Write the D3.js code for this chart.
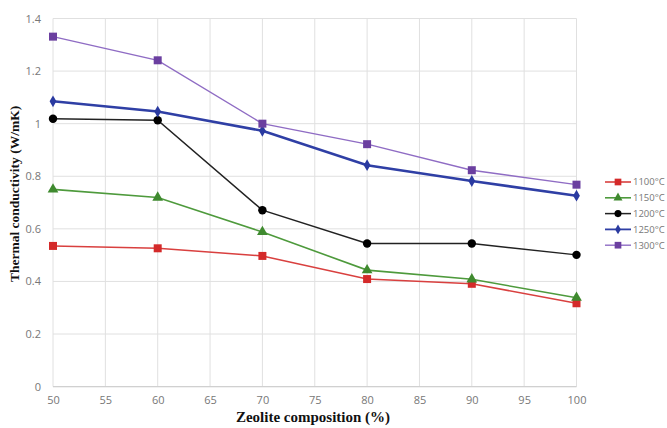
<!DOCTYPE html>
<html><head><meta charset="utf-8">
<script src="https://cdn.jsdelivr.net/npm/d3@7"></script>
<style>body{margin:0;background:#fff}svg{display:block}</style>
</head><body>
<svg id="c" width="667" height="428"></svg>
<script>
const composition = [50, 60, 70, 80, 90, 100];
const s1100 = [0.535, 0.526, 0.497, 0.409, 0.391, 0.317];
const s1150 = [0.750, 0.719, 0.588, 0.443, 0.408, 0.338];
const s1200 = [1.019, 1.013, 0.671, 0.544, 0.544, 0.501];
const s1250 = [1.085, 1.046, 0.973, 0.842, 0.782, 0.726];
const s1300 = [1.331, 1.241, 1.000, 0.922, 0.823, 0.768];
const seriesNames = ["1100°C", "1150°C", "1200°C", "1250°C", "1300°C"];
const xTicks = [50, 55, 60, 65, 70, 75, 80, 85, 90, 95, 100];
const yTicks = [0, 0.2, 0.4, 0.6, 0.8, 1, 1.2, 1.4];

const styles = [
  {line: "#d9403f", fill: "#d42a2a", w: 1.6, sym: d3.symbolSquare, size: 64},
  {line: "#4e9a3c", fill: "#3f8a2f", w: 1.6, sym: d3.symbolTriangle, size: 50},
  {line: "#222", fill: "#000", w: 1.5, sym: d3.symbolCircle, size: 56},
  {line: "#2f3fa5", fill: "#2a3aa0", w: 2.6, sym: d3.symbolDiamond, size: 40},
  {line: "#8f6cc4", fill: "#6b3fa0", w: 1.4, sym: d3.symbolSquare, size: 64}
];
const data = [s1100, s1150, s1200, s1250, s1300];

const svg = d3.select("#c");
const x = d3.scaleLinear().domain([50, 100]).range([53, 576.5]);
const y = d3.scaleLinear().domain([0, 1.4]).range([386.6, 18.5]);

// gridlines
svg.append("g").selectAll("line").data(yTicks).join("line")
  .attr("x1", x(50)).attr("x2", x(100)).attr("y1", d => y(d)).attr("y2", d => y(d))
  .attr("stroke", "#e0e0e0").attr("stroke-width", 1);
svg.append("g").selectAll("line").data(xTicks).join("line")
  .attr("x1", d => x(d)).attr("x2", d => x(d)).attr("y1", y(0)).attr("y2", y(1.4))
  .attr("stroke", "#e0e0e0").attr("stroke-width", 1);
svg.append("line").attr("x1", x(50)).attr("x2", x(100)).attr("y1", y(0)).attr("y2", y(0))
  .attr("stroke", "#d0d0d0").attr("stroke-width", 1.2);

const tickFont = "'Open Sans', 'Noto Sans', sans-serif";
const xAxis = svg.append("g").attr("transform", `translate(0,${y(0)})`)
  .call(d3.axisBottom(x).tickValues(xTicks).tickSize(0).tickPadding(10));
xAxis.select(".domain").remove();
xAxis.selectAll("text").attr("fill", "#777").style("font-family", tickFont).style("font-size", "11px");

const yAxis = svg.append("g").attr("transform", `translate(${x(50)},0)`)
  .call(d3.axisLeft(y).tickValues(yTicks).tickSize(0).tickPadding(12).tickFormat(d3.format("")));
yAxis.select(".domain").remove();
yAxis.selectAll("text").attr("fill", "#777").style("font-family", tickFont).style("font-size", "11px");

// lines
const line = d3.line().x((d, i) => x(composition[i])).y(d => y(d));
data.forEach((s, k) => {
  const st = styles[k];
  svg.append("path").datum(s).attr("d", line).attr("fill", "none")
    .attr("stroke", st.line).attr("stroke-width", st.w);
  svg.append("g").selectAll("path").data(s).join("path")
    .attr("transform", (d, i) => `translate(${x(composition[i])},${y(d)})`)
    .attr("d", d3.symbol().type(st.sym).size(st.size)).attr("fill", st.fill);
});

// legend
const leg = svg.append("g");
seriesNames.forEach((n, k) => {
  const st = styles[k];
  const ly = 182 + k * 15.8;
  leg.append("line").attr("x1", 605).attr("x2", 631).attr("y1", ly).attr("y2", ly)
    .attr("stroke", st.line).attr("stroke-width", Math.min(st.w, 1.8));
  leg.append("path").attr("transform", `translate(618,${ly})`)
    .attr("d", d3.symbol().type(st.sym).size(st.size * 0.7)).attr("fill", st.fill);
  leg.append("text").attr("x", 633).attr("y", ly).attr("dy", "0.35em").text(n)
    .attr("fill", "#777").style("font-family", tickFont).style("font-size", "9.5px");
});

// titles
svg.append("text").attr("x", 313).attr("y", 422).attr("text-anchor", "middle")
  .style("font-family", "'Liberation Serif', 'DejaVu Serif', serif").style("font-weight", "bold")
  .style("font-size", "15px").attr("fill", "#111").text("Zeolite composition (%)");
svg.append("text").attr("transform", "translate(19,194) rotate(-90)").attr("text-anchor", "middle")
  .style("font-family", "'Liberation Serif', 'DejaVu Serif', serif").style("font-weight", "bold")
  .style("font-size", "13.5px").attr("fill", "#111").text("Thermal conductivity (W/mK)");
</script>
</body></html>
